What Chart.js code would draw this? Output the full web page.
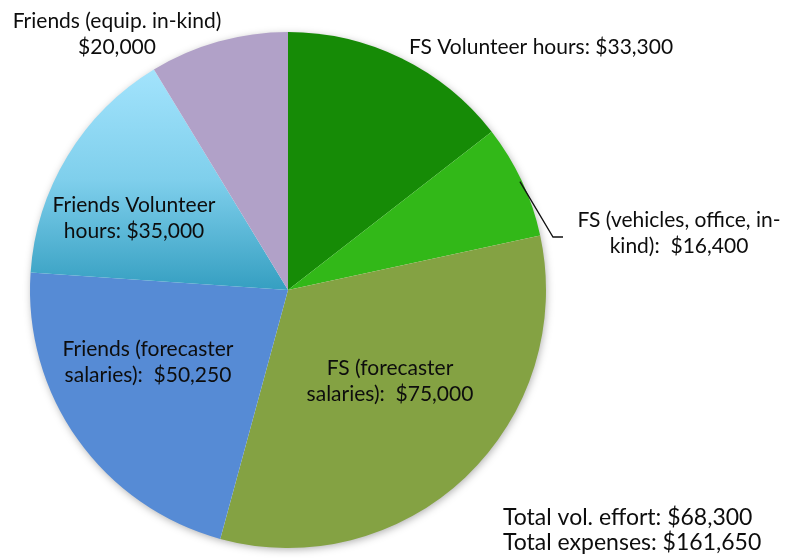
<!DOCTYPE html>
<html>
<head>
<meta charset="utf-8">
<script src="https://cdn.jsdelivr.net/npm/chart.js@4.4.1/dist/chart.umd.min.js"></script>
<style>
  body { margin: 0; background: #fff; }
  #wrap { width: 786px; height: 558px; position: relative; }
</style>
</head>
<body>
<div id="wrap"><canvas id="costPie"></canvas></div>
<script>
// slices, clockwise from 12 o'clock
const categories = ['FS Volunteer hours', 'FS (vehicles, office, in-kind)', 'FS (forecaster salaries)',
    'Friends (forecaster salaries)', 'Friends Volunteer hours', 'Friends (equip. in-kind)'];
const amounts = [33300, 16400, 75000, 50250, 35000, 20000];
const sliceColors = ['#168b06', '#32b818', '#84a243', '#568bd5', null, '#b1a1c8'];
const sliceLabels = [
    ['FS Volunteer hours: $33,300'],
    ['FS (vehicles, office, in-', 'kind):  $16,400'],
    ['FS (forecaster', 'salaries):  $75,000'],
    ['Friends (forecaster', 'salaries):  $50,250'],
    ['Friends Volunteer', 'hours: $35,000'],
    ['Friends (equip. in-kind)', '$20,000']
];
const totalLines = ['Total vol. effort: $68,300', 'Total expenses: $161,650'];

const FONT = '21px Lato, "Open Sans", sans-serif';
const TOTAL_FONT = '23px Lato, "Open Sans", sans-serif';
const LINE_H = 26;

// where each label block sits (centre x, middle of first line y)
const labelPos = [
    { x: 541, y: 47 },
    { x: 679, y: 220 },
    { x: 390, y: 368 },
    { x: 148, y: 349 },
    { x: 134, y: 205 },
    { x: 117, y: 21 }
];

function blueGradient(context) {
    const area = context.chart.chartArea;
    if (!area) return '#7fd0ee';
    const c = context.chart.ctx;
    const g = c.createLinearGradient(0, area.top + 40, 0, area.top + 255);
    g.addColorStop(0, '#a2e3fc');
    g.addColorStop(0.5, '#7fcfec');
    g.addColorStop(1, '#37a0c2');
    return g;
}

const pieShadow = {
    id: 'pieShadow',
    beforeDatasetsDraw(chart) {
        const arc = chart.getDatasetMeta(0).data[0];
        if (!arc) return;
        const c = chart.ctx;
        c.save();
        c.shadowColor = 'rgba(0,0,0,0.35)';
        c.shadowBlur = 8;
        c.shadowOffsetX = 1;
        c.shadowOffsetY = 2;
        c.fillStyle = '#ffffff';
        c.beginPath();
        c.arc(arc.x, arc.y, arc.outerRadius - 1, 0, Math.PI * 2);
        c.fill();
        c.restore();
    }
};

const pieText = {
    id: 'pieText',
    afterDraw(chart) {
        const c = chart.ctx;
        c.save();
        c.font = FONT;
        c.fillStyle = '#0d0d0d';
        c.textBaseline = 'middle';
        c.textAlign = 'center';
        sliceLabels.forEach(function (lines, i) {
            const p = labelPos[i];
            lines.forEach(function (t, j) {
                c.fillText(t, p.x, p.y + j * LINE_H);
            });
        });
        // leader line for the small slice
        const arc = chart.getDatasetMeta(0).data[1];
        const mid = (arc.startAngle + arc.endAngle) / 2;
        const sx = arc.x + Math.cos(mid) * (arc.outerRadius - 2);
        const sy = arc.y + Math.sin(mid) * (arc.outerRadius - 2);
        c.strokeStyle = '#111';
        c.lineWidth = 1.3;
        c.beginPath();
        c.moveTo(sx, sy);
        c.lineTo(553, 237);
        c.lineTo(563, 237);
        c.stroke();
        // totals
        c.font = TOTAL_FONT;
        c.textAlign = 'left';
        totalLines.forEach(function (t, j) {
            c.fillText(t, 503, 518 + j * 25);
        });
        c.restore();
    }
};

new Chart(document.getElementById('costPie'), {
    type: 'pie',
    data: {
        labels: categories,
        datasets: [{
            data: amounts,
            backgroundColor: function (context) {
                const i = context.dataIndex;
                return sliceColors[i] || blueGradient(context);
            },
            borderWidth: 0
        }]
    },
    options: {
        responsive: true,
        maintainAspectRatio: false,
        animation: false,
        layout: {
            padding: { left: 30, right: 240, top: 32, bottom: 10 }
        },
        plugins: {
            legend: { display: false },
            tooltip: { enabled: false }
        }
    },
    plugins: [pieShadow, pieText]
});
</script>
</body>
</html>
